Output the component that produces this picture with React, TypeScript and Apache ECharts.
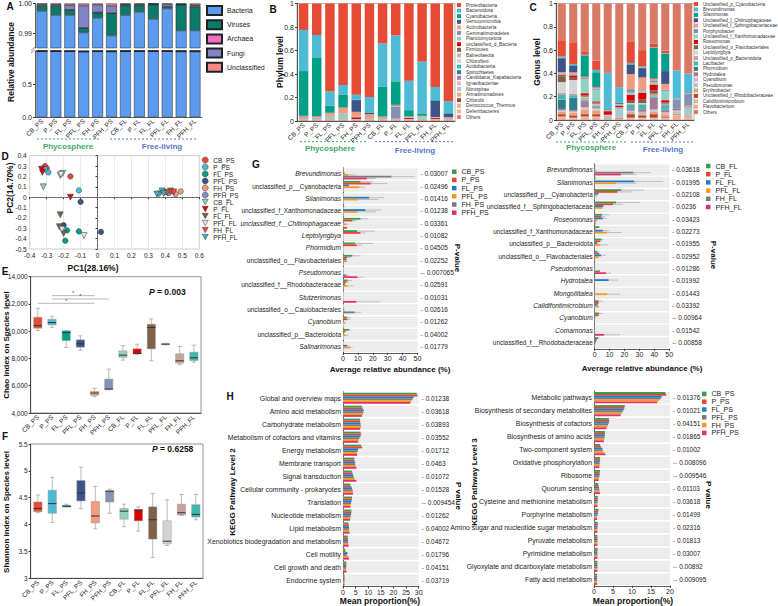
import React, { useEffect, useRef } from 'react';
import * as echarts from 'echarts';

const FONT = '"Liberation Sans", Arial, Helvetica, sans-serif';

const samples = ['CB_PS', 'P_PS', 'FL_PS', 'PFL_PS', 'FH_PS', 'PFH_PS', 'CB_FL', 'P_FL', 'FL_FL', 'PFL_FL', 'FH_FL', 'PFH_FL'];

// ---------- Panel A ----------
const kingdomNames = ['Bacteria', 'Viruses', 'Archaea', 'Fungi', 'Unclassified'];
const kingdomColors = ['#5b9bf0', '#0b7a6b', '#f06ec0', '#8282c6', '#f48a84'];
const aBacteria = [0.9975, 0.9961, 0.9961, 0.9902, 0.9952, 0.9892, 0.9961, 0.9972, 0.9948, 0.9983, 0.9909, 0.9909];
const aViruses = [0.0016, 0.003, 0.0017, 0.0015, 0.0017, 0.0075, 0.0032, 0.0021, 0.0048, 0.0005, 0.0087, 0.008];
const aArchaea = [0.0002, 0.0002, 0.0001, 0.0001, 0.0001, 0.0001, 0.0002, 0.0002, 0.0002, 0.0002, 0.0001, 0.0004];
const aFungi = [0.0005, 0.0004, 0.0015, 0.0075, 0.0026, 0.0024, 0.0003, 0.0003, 0.0001, 0.0008, 0.0001, 0.0002];
const aUnclassified = [0.0002, 0.0003, 0.0006, 0.0007, 0.0004, 0.0008, 0.0002, 0.0002, 0.0001, 0.0002, 0.0002, 0.0005];
const kingdomValues = [aBacteria, aViruses, aArchaea, aFungi, aUnclassified];

// ---------- Panel B ----------
const phylumNames = ['Proteobacteria', 'Bacteroidota', 'Cyanobacteria', 'Verrucomicrobia', 'Actinobacteria', 'Gemmatimonadetes', 'Planctomycetota', 'unclassified_d_Bacteria', 'Firmicutes', 'Balneolaeota', 'Chloroflexi', 'Acidobacteria', 'Spirochaetes', 'Candidatus_Kapabacteria', 'Ignavibacteriae', 'Nitrospirae', 'Armatimonadetes', 'Chlorobi', 'Deinococcus_Thermus', 'Deferribacteres', 'Others'];
const phylumColors = ['#e64b35', '#4dbbd5', '#00a087', '#3c5488', '#f39b7f', '#8491b4', '#91d1c2', '#dc0000', '#7e6148', '#c8b4a8', '#d5d5d5', '#3fb8b8', '#2c7f8c', '#b07aa1', '#e8b8c0', '#a8c8d8', '#f0a878', '#b4452e', '#d8b8a0', '#f4b49c', '#e8806a'];
const phylumValues = [
  [0.225, 0.268, 0.749, 0.694, 0.777, 0.796, 0.34, 0.272, 0.658, 0.495, 0.711, 0.832],
  [0.35, 0.19, 0.12, 0.08, 0.04, 0.13, 0.37, 0.39, 0.25, 0.44, 0.11, 0.1],
  [0.38, 0.5, 0.06, 0.11, 0.005, 0.005, 0.25, 0.2, 0.05, 0.02, 0.005, 0.005],
  [0.005, 0.003, 0.003, 0.003, 0.1, 0.01, 0.003, 0.005, 0.003, 0.003, 0.14, 0.03],
  [0.015, 0.012, 0.025, 0.05, 0.04, 0.035, 0.012, 0.01, 0.008, 0.006, 0.005, 0.008],
  [0.003, 0.005, 0.003, 0.003, 0.003, 0.002, 0.003, 0.1, 0.003, 0.002, 0.002, 0.003],
  [0.003, 0.003, 0.02, 0.04, 0.003, 0.003, 0.003, 0.003, 0.003, 0.015, 0.002, 0.003],
  [0.002, 0.002, 0.003, 0.003, 0.015, 0.002, 0.002, 0.003, 0.008, 0.002, 0.008, 0.002],
  [0.001, 0.001, 0.001, 0.001, 0.001, 0.001, 0.001, 0.001, 0.001, 0.001, 0.001, 0.001],
  [0.001, 0.001, 0.001, 0.001, 0.001, 0.001, 0.001, 0.001, 0.001, 0.001, 0.001, 0.001],
  [0.001, 0.001, 0.001, 0.001, 0.001, 0.001, 0.001, 0.001, 0.001, 0.001, 0.001, 0.001],
  [0.001, 0.001, 0.001, 0.001, 0.001, 0.001, 0.001, 0.001, 0.001, 0.001, 0.001, 0.001],
  [0.001, 0.001, 0.001, 0.001, 0.001, 0.001, 0.001, 0.001, 0.001, 0.001, 0.001, 0.001],
  [0.001, 0.001, 0.001, 0.001, 0.001, 0.001, 0.001, 0.001, 0.001, 0.001, 0.001, 0.001],
  [0.001, 0.001, 0.001, 0.001, 0.001, 0.001, 0.001, 0.001, 0.001, 0.001, 0.001, 0.001],
  [0.001, 0.001, 0.001, 0.001, 0.001, 0.001, 0.001, 0.001, 0.001, 0.001, 0.001, 0.001],
  [0.001, 0.001, 0.001, 0.001, 0.001, 0.001, 0.001, 0.001, 0.001, 0.001, 0.001, 0.001],
  [0.001, 0.001, 0.001, 0.001, 0.001, 0.001, 0.001, 0.001, 0.001, 0.001, 0.001, 0.001],
  [0.001, 0.001, 0.001, 0.001, 0.001, 0.001, 0.001, 0.001, 0.001, 0.001, 0.001, 0.001],
  [0.001, 0.001, 0.001, 0.001, 0.001, 0.001, 0.001, 0.001, 0.001, 0.001, 0.001, 0.001],
  [0.005, 0.005, 0.005, 0.005, 0.005, 0.005, 0.005, 0.005, 0.005, 0.005, 0.005, 0.005],
];

// ---------- Panel C ----------
const genusNames = ['Unclassified_p_Cyanobacteria', 'Brevundimonas', 'Silanimonas', 'Unclassified_f_Chitinophagaceae', 'Unclassified_f_Sphingobacteriaceae', 'Porphyrobacter', 'Unclassified_f_Xanthomonadaceae', 'Roseomonas', 'Unclassified_o_Flavobacteriales', 'Leptolyngbya', 'Unclassified_p_Bacteroidota', 'Lacibacter', 'Phormidium', 'Hydrotalea', 'Cyanobium', 'Pseudomonas', 'Erythrobacter', 'Unclassified_f_Rhodobacteraceae', 'Calidifontimicrobium', 'Flavobacterium', 'Others'];
const genusColors = ['#e64b35', '#4dbbd5', '#00a087', '#3c5488', '#f39b7f', '#8491b4', '#91d1c2', '#dc0000', '#7e6148', '#d5d5d5', '#c8a098', '#3fb8b0', '#2c7f8c', '#a87a9a', '#e0b0bc', '#a8c8d0', '#f0a070', '#b4452e', '#d8b8a0', '#f4a890', '#d97a66'];
const genusValues = [
  [0.14, 0.18, 0.03, 0.08, 0.002, 0.002, 0.18, 0.14, 0.03, 0.02, 0.002, 0.002],
  [0.01, 0.01, 0.005, 0.02, 0.31, 0.13, 0.01, 0.01, 0.005, 0.005, 0.24, 0.16],
  [0.005, 0.003, 0.18, 0.12, 0.002, 0.002, 0.005, 0.005, 0.26, 0.15, 0.002, 0.002],
  [0.12, 0.06, 0.005, 0.01, 0.005, 0.01, 0.08, 0.08, 0.005, 0.11, 0.003, 0.005],
  [0.01, 0.01, 0.01, 0.01, 0.003, 0.005, 0.13, 0.11, 0.02, 0.05, 0.003, 0.005],
  [0.01, 0.01, 0.01, 0.01, 0.005, 0.01, 0.03, 0.01, 0.01, 0.01, 0.08, 0.1],
  [0.005, 0.005, 0.12, 0.1, 0.002, 0.003, 0.02, 0.01, 0.02, 0.08, 0.002, 0.002],
  [0.01, 0.02, 0.02, 0.01, 0.03, 0.01, 0.05, 0.06, 0.05, 0.02, 0.005, 0.005],
  [0.05, 0.02, 0.01, 0.01, 0.003, 0.003, 0.02, 0.03, 0.03, 0.01, 0.002, 0.002],
  [0.09, 0.12, 0.005, 0.005, 0.002, 0.002, 0.005, 0.005, 0.002, 0.002, 0.002, 0.002],
  [0.02, 0.01, 0.02, 0.01, 0.003, 0.003, 0.01, 0.01, 0.02, 0.01, 0.002, 0.002],
  [0.04, 0.02, 0.01, 0.01, 0.003, 0.003, 0.03, 0.03, 0.01, 0.04, 0.002, 0.002],
  [0.08, 0.11, 0.005, 0.005, 0.002, 0.002, 0.01, 0.01, 0.003, 0.003, 0.002, 0.002],
  [0.01, 0.01, 0.05, 0.01, 0.003, 0.003, 0.01, 0.02, 0.1, 0.02, 0.002, 0.002],
  [0.01, 0.01, 0.01, 0.01, 0.002, 0.002, 0.01, 0.01, 0.01, 0.01, 0.002, 0.002],
  [0.005, 0.003, 0.01, 0.01, 0.01, 0.07, 0.01, 0.01, 0.01, 0.005, 0.02, 0.07],
  [0.02, 0.02, 0.04, 0.03, 0.005, 0.005, 0.01, 0.01, 0.02, 0.02, 0.005, 0.005],
  [0.02, 0.02, 0.02, 0.02, 0.005, 0.005, 0.03, 0.02, 0.03, 0.01, 0.005, 0.005],
  [0.01, 0.01, 0.01, 0.01, 0.003, 0.003, 0.01, 0.01, 0.01, 0.01, 0.005, 0.005],
  [0.02, 0.01, 0.02, 0.02, 0.005, 0.01, 0.01, 0.01, 0.01, 0.01, 0.04, 0.02],
  [0.315, 0.339, 0.41, 0.49, 0.595, 0.717, 0.33, 0.4, 0.345, 0.405, 0.574, 0.6],
];

// ---------- Panel D ----------
const pcoaColors = ['#e64b35', '#4dbbd5', '#00a087', '#3c5488', '#f39b7f', '#8491b4', '#91d1c2', '#dc0000', '#7e6148', '#e6e6e6', '#e8503a', '#3fb5c5'];
const pcoaTriangle = [false, false, false, false, false, false, true, true, true, true, true, true];
const pcoaPoints = [
  [[-0.31, 0.3], [-0.3, 0.28], [-0.16, 0.2]],
  [[-0.29, 0.24], [-0.31, 0.27], [-0.11, 0.065]],
  [[-0.18, -0.32], [-0.19, -0.42], [-0.11, -0.33]],
  [[-0.2, -0.27], [-0.1, -0.045], [0.02, -0.335]],
  [[0.44, 0.06], [0.46, 0.03], [0.49, 0.055]],
  [[0.36, 0.035], [0.4, 0.05], [0.42, 0.04]],
  [[-0.32, 0.1], [-0.22, 0.21], [-0.205, 0.23]],
  [[-0.33, 0.27], [-0.325, 0.24], [-0.16, 0.0]],
  [[-0.22, -0.17], [-0.225, -0.285], [-0.2, -0.35]],
  [[-0.21, -0.31], [-0.08, -0.37], [-0.215, 0.22]],
  [[0.43, 0.06], [0.45, 0.05], [0.41, 0.045]],
  [[0.38, 0.06], [0.39, 0.035], [0.35, 0.03]],
];

// ---------- Panels E / F ----------
const boxColors = ['#e64b35', '#4dbbd5', '#00a087', '#3c5488', '#f39b7f', '#8491b4', '#91d1c2', '#dc0000', '#7e6148', '#d4d4d4', '#c9a39a', '#3fb8b0'];
const chaoStats = [
  [10049, 10220, 10415, 11024, 11683],
  [10268, 10463, 10634, 10878, 11098],
  [8805, 9317, 9902, 10024, 10049],
  [8610, 8830, 9073, 9366, 9658],
  [5195, 5293, 5463, 5585, 5829],
  [5707, 5730, 5760, 6488, 7220],
  [7878, 8073, 8244, 8561, 8951],
  [8317, 8340, 8366, 8707, 9049],
  [7829, 8707, 10268, 10512, 10902],
  [9000, 9030, 9049, 9098, 9110],
  [7537, 7659, 7829, 8342, 8878],
  [7732, 7854, 8049, 8463, 8976],
];
const chaoSignif = [[1, 4, 12610], [1, 5, 12366], [0, 4, 12049]];
const shannonStats = [
  [4.22, 4.24, 4.3, 4.42, 4.55],
  [4.04, 4.21, 4.39, 4.64, 4.88],
  [4.33, 4.33, 4.34, 4.36, 4.38],
  [4.3, 4.44, 4.59, 4.82, 5.07],
  [3.92, 4.03, 4.16, 4.43, 4.71],
  [4.21, 4.42, 4.62, 4.63, 4.66],
  [3.96, 4.1, 4.25, 4.3, 4.38],
  [3.88, 4.07, 4.27, 4.28, 4.33],
  [3.39, 3.73, 4.09, 4.33, 4.58],
  [3.61, 3.64, 3.69, 4.07, 4.46],
  [4.17, 4.18, 4.22, 4.38, 4.56],
  [4.09, 4.14, 4.19, 4.37, 4.56],
];

// ---------- Panel G ----------
const gPSNames = ['CB_PS', 'P_PS', 'FL_PS', 'PFL_PS', 'FH_PS', 'PFH_PS'];
const gFLNames = ['CB_FL', 'P_FL', 'FL_FL', 'PFL_FL', 'FH_FL', 'PFH_FL'];
const gColors = ['#3a9c48', '#ea4335', '#1f7ac8', '#f7981d', '#7a7a7a', '#e4306e'];
const gLeftTaxa = ['Brevundimonas', 'unclassified_p__Cyanobacteria', 'Silanimonas', 'unclassified_f_Xanthomonadaceae', 'unclassified_f__Chitinophagaceae', 'Leptolyngbya', 'Phormidium', 'unclassified_o__Flavobacteriales', 'Pseudomonas', 'unclassified_f__Rhodobacteraceae', 'Stutzerimonas', 'unclassified_o__Caulobacterales', 'Cyanobium', 'unclassified_p__Bacteroidota', 'Salinarimonas'];
const gLeftP = ['0.03007', '0.02496', '0.01416', '0.01238', '0.03361', '0.01082', '0.04505', '0.02252', '0.007065', '0.02591', '0.01031', '0.02616', '0.01262', '0.04002', '0.01779'];
const gLeftVals = [
  [0.5, 0.5, 1.0, 3.4, 32.5, 16],
  [11.7, 18.6, 4, 11, 0.5, 0.3],
  [0.3, 0.3, 17.5, 10.5, 0.3, 0.3],
  [0.8, 0.3, 15, 9.6, 0.3, 0.3],
  [11.7, 6.3, 0.5, 2.2, 0.3, 2.7],
  [9.4, 11.7, 0.2, 0.2, 0.1, 0.1],
  [8, 9.2, 0.2, 0.2, 0.1, 0.1],
  [6.3, 2.7, 2.2, 2.7, 0.5, 0.3],
  [0.2, 0.2, 0.3, 0.3, 2.2, 9.6],
  [3.1, 2.2, 1.3, 3.1, 0.5, 0.5],
  [0.1, 0.1, 0.1, 0.1, 0.2, 9],
  [0.2, 0.2, 0.3, 1.0, 7.8, 0.3],
  [2.5, 2.9, 0.5, 1.5, 0.1, 0.1],
  [4, 1.6, 0.5, 1.8, 0.2, 0.2],
  [0.2, 0.2, 2.7, 4.7, 0.2, 0.2],
];
const gLeftErr = [
  [0, 0, 0, 8.5, 48, 22],
  [20, 30, 0, 15, 0, 0],
  [0, 0, 27.6, 23.5, 0, 0],
  [0, 0, 25.8, 22.4, 0, 0],
  [17, 9, 0, 4, 0, 0],
  [21.5, 15, 0, 0, 0, 0],
  [20, 13, 0, 0, 0, 0],
  [11.9, 5, 0, 0, 0, 0],
  [0, 0, 0, 0, 4, 14],
  [6, 4, 0, 7, 0, 0],
  [0, 0, 0, 0, 0, 25],
  [0, 0, 0, 0, 12, 0],
  [5, 4.8, 0, 0, 0, 0],
  [5.5, 0, 0, 3.5, 0, 0],
  [0, 0, 4.5, 6.5, 0, 0],
];
const gRightTaxa = ['Brevundimonas', 'Silanimonas', 'unclassified_p__Cyanobacteria', 'unclassified_f__Sphingobacteriaceae', 'Roseomonas', 'unclassified_f_Xanthomonadaceae', 'unclassified_p__Bacteroidota', 'unclassified_o__Flavobacteriales', 'Pseudomonas', 'Hydrotalea', 'Mongoliitalea', 'Calidifontimicrobium', 'Cyanobium', 'Comamonas', 'unclassified_f__Rhodobacteraceae'];
const gRightP = ['0.03618', '0.01995', '0.02108', '0.0236', '0.03423', '0.02273', '0.01955', '0.02952', '0.01286', '0.01992', '0.01443', '0.03392', '0.00964', '0.01542', '0.00858'];
const gRightVals = [
  [0.3, 0.3, 0.3, 0.9, 26, 17.5],
  [0.5, 0.3, 26.5, 14.3, 0.2, 0.2],
  [17.7, 15.2, 2.5, 1.3, 0.2, 0.2],
  [14.3, 12.3, 5.8, 5.2, 0.2, 0.2],
  [4.9, 4.3, 5.4, 1.8, 0.5, 0.5],
  [3.1, 0.5, 5.4, 8.1, 0.2, 0.2],
  [4.3, 3.6, 1.6, 3.8, 0.2, 0.2],
  [1.8, 3.1, 4.3, 2.7, 0.2, 0.2],
  [0.2, 0.2, 0.2, 0.2, 3.6, 7.6],
  [0.3, 0.2, 9.4, 0.3, 0.1, 0.1],
  [0.2, 0.2, 0.2, 8.5, 0.1, 0.1],
  [2.5, 2.5, 2, 2.7, 0.1, 0.1],
  [2.9, 2.7, 0.4, 0.3, 0.1, 0.1],
  [0.2, 0.2, 0.2, 0.2, 0.3, 6.3],
  [2.2, 1.3, 0.9, 0.5, 0.1, 0.1],
];
const gRightErr = [
  [0, 0, 0, 0, 37.7, 28],
  [0, 0, 46, 28, 0, 0],
  [33, 25, 0, 0, 0, 0],
  [30.5, 19, 0, 0, 0, 0],
  [10, 7, 8, 0, 0, 0],
  [0, 0, 10, 18, 0, 0],
  [6, 5, 0, 9, 0, 0],
  [0, 0, 7.5, 0, 0, 0],
  [0, 0, 0, 0, 0, 11],
  [0, 0, 15.5, 0, 0, 0],
  [0, 0, 0, 17, 0, 0],
  [5.5, 0, 0, 0, 0, 0],
  [5.5, 0, 0, 0, 0, 0],
  [0, 0, 0, 0, 0, 17],
  [3.2, 0, 0, 0, 0, 0],
];
const italicTaxa = ['Brevundimonas', 'Silanimonas', 'unclassified_f__Chitinophagaceae', 'Leptolyngbya', 'Phormidium', 'Pseudomonas', 'Stutzerimonas', 'Cyanobium', 'Salinarimonas', 'Roseomonas', 'Hydrotalea', 'Mongoliitalea', 'Calidifontimicrobium', 'Comamonas'];

// ---------- Panel H ----------
const hColors = ['#3a9c48', '#ea4335', '#1f7ac8', '#7a7a7a', '#f7981d', '#e4306e'];
const hLevel2 = ['Global and overview maps', 'Amino acid metabolism', 'Carbohydrate metabolism', 'Metabolism of cofactors and vitamins', 'Energy metabolism', 'Membrane transport', 'Signal transduction', 'Cellular community - prokaryotes', 'Translation', 'Nucleotide metabolism', 'Lipid metabolism', 'Xenobiotics biodegradation and metabolism', 'Cell motility', 'Cell growth and death', 'Endocrine system'];
const hLevel2P = ['0.01238', '0.03618', '0.03893', '0.03552', '0.01712', '0.0463', '0.01072', '0.01528', '0.009454', '0.01262', '0.04002', '0.04672', '0.01796', '0.04151', '0.03719'];
const hLevel2Vals = [
  [29.2, 29.5, 28, 27.5, 27, 26.7],
  [7.5, 7.8, 8.2, 8.0, 7.9, 7.5],
  [6.7, 6.8, 6.9, 7.0, 7.1, 6.8],
  [7.0, 7.2, 6.9, 6.5, 6.2, 6.0],
  [7.2, 7.6, 6.0, 5.8, 5.5, 5.6],
  [4.5, 4.5, 4.8, 4.8, 5.0, 5.3],
  [3.5, 3.8, 4.0, 4.3, 4.6, 5.3],
  [2.8, 3.2, 3.5, 3.8, 4.0, 3.9],
  [3.6, 3.5, 3.4, 3.2, 3.0, 2.9],
  [3.3, 3.3, 3.2, 3.0, 2.9, 2.8],
  [2.2, 2.3, 2.4, 2.4, 2.5, 2.6],
  [1.9, 1.9, 2.0, 2.0, 2.1, 2.2],
  [0.8, 1.0, 1.8, 1.5, 2.2, 2.4],
  [1.3, 1.3, 1.3, 1.2, 1.3, 1.4],
  [0.6, 0.6, 0.6, 0.6, 0.6, 0.6],
];
const hLevel3 = ['Metabolic pathways', 'Biosynthesis of secondary metabolites', 'Biosynthesis of cofactors', 'Biosynthesis of amino acids', 'Two-component system', 'Oxidative phosphorylation', 'Ribosome', 'Quorum sensing', 'Cysteine and methionine metabolism', 'Porphyrine metabolism', 'Amino sugar and nucleotide sugar metabolism', 'Pyruvate metabolism', 'Pyrimidine metabolism', 'Glyoxylate and dicarboxylate metabolism', 'Fatty acid metabolism'];
const hLevel3P = ['0.01376', '0.01021', '0.04151', '0.01865', '0.01002', '0.008096', '0.009546', '0.01103', '0.03618', '0.01499', '0.02316', '0.01813', '0.03007', '0.00892', '0.009095'];
const hLevel3Vals = [
  [18.8, 19.0, 17.8, 17.5, 17.0, 16.6],
  [8.1, 8.0, 7.8, 7.5, 7.2, 7.0],
  [3.9, 4.0, 3.9, 3.7, 3.5, 3.3],
  [2.9, 2.9, 2.8, 2.8, 2.7, 2.6],
  [1.6, 1.8, 2.2, 2.3, 2.6, 3.0],
  [1.6, 1.6, 1.5, 1.5, 1.5, 1.4],
  [1.6, 1.5, 1.5, 1.4, 1.3, 1.2],
  [1.1, 1.2, 1.3, 1.4, 1.5, 1.6],
  [1.0, 1.0, 1.0, 0.9, 0.9, 0.9],
  [1.2, 1.1, 1.0, 0.9, 0.8, 0.8],
  [1.0, 1.0, 0.9, 0.9, 0.9, 0.9],
  [0.9, 0.9, 0.9, 0.9, 0.9, 0.9],
  [1.0, 0.9, 0.9, 0.9, 0.9, 0.9],
  [0.9, 0.9, 0.9, 0.9, 0.9, 0.9],
  [0.8, 0.8, 0.8, 0.8, 0.8, 0.8],
];

const TRI = 'path://M0,0L10,0L5,9Z';

function lbl(size: number, extra: any = {}) {
  return { fontSize: size, color: '#222', fontFamily: FONT, ...extra };
}
const axLine = { show: true, lineStyle: { color: '#333', width: 0.8 } };

function txt(text: string, x: number, y: number, o: any = {}) {
  const align = o.align || 'center';
  return {
    type: 'text', x, y, rotation: o.rot || 0, silent: true, z: 100,
    style: {
      text, fontSize: o.size || 8, fontWeight: o.bold ? 'bold' : 'normal', fill: o.color || '#111',
      fontFamily: FONT, align, textAlign: align, verticalAlign: 'middle', textVerticalAlign: 'middle', rich: o.rich,
    },
  };
}
function dashLine(x1: number, x2: number, y: number, color: string) {
  return { type: 'line', silent: true, shape: { x1, y1: y, x2, y2: y }, style: { stroke: color, lineWidth: 1, lineDash: [2, 2] } };
}

function buildOption() {
  const grid: any[] = [
    { left: 35, top: 3, width: 167, height: 45 },
    { left: 35, top: 51, width: 167, height: 66 },
    { left: 297, top: 3, width: 158, height: 118, show: true, borderColor: '#888', borderWidth: 0.6 },
    { left: 556, top: 3, width: 138, height: 117, show: true, borderColor: '#888', borderWidth: 0.6 },
    { left: 29.7, top: 155.7, width: 169.6, height: 93.3, show: true, borderColor: '#aaa', borderWidth: 0.6 },
    { left: 30.7, top: 276.7, width: 170.3, height: 136.3, show: true, borderColor: '#777', borderWidth: 0.8 },
    { left: 30.7, top: 444, width: 172.3, height: 134.3, show: true, borderColor: '#777', borderWidth: 0.8 },
    { left: 343, top: 167.8, width: 74.5, height: 185 },
    { left: 594.7, top: 163.8, width: 74.5, height: 185 },
    { left: 343, top: 391.8, width: 75.7, height: 194.7 },
    { left: 594, top: 391.2, width: 76, height: 194.6 },
  ];
  const rotLabels = { rotate: 45, interval: 0, margin: 3, ...lbl(6.5) };
  const xAxis: any[] = [
    { gridIndex: 0, type: 'category', data: samples, show: false },
    { gridIndex: 1, type: 'category', data: samples, axisLine: axLine, axisTick: { show: false }, axisLabel: rotLabels },
    { gridIndex: 2, type: 'category', data: samples, axisLine: axLine, axisTick: { show: false }, axisLabel: rotLabels },
    { gridIndex: 3, type: 'category', data: samples, axisLine: axLine, axisTick: { show: false }, axisLabel: rotLabels },
    { gridIndex: 4, type: 'value', min: -0.4, max: 0.6, interval: 0.1, axisLine: axLine, axisTick: { length: 2 }, axisLabel: { margin: 3, ...lbl(6.5) }, splitLine: { show: true, lineStyle: { color: '#dcdcdc', width: 0.6 } } },
    { gridIndex: 5, type: 'category', data: samples, axisLine: axLine, axisTick: { length: 2, alignWithLabel: true }, axisLabel: rotLabels },
    { gridIndex: 6, type: 'category', data: samples, axisLine: axLine, axisTick: { length: 2, alignWithLabel: true }, axisLabel: rotLabels },
    { gridIndex: 7, type: 'value', min: 0, max: 50, interval: 10, axisLine: axLine, axisTick: { show: true, length: 2 }, axisLabel: { margin: 2, ...lbl(7) }, splitLine: { show: false } },
    { gridIndex: 8, type: 'value', min: 0, max: 50, interval: 10, axisLine: axLine, axisTick: { show: true, length: 2 }, axisLabel: { margin: 2, ...lbl(7) }, splitLine: { show: false } },
    { gridIndex: 9, type: 'value', min: 0, max: 30, interval: 5, axisLine: axLine, axisTick: { show: true, length: 2 }, axisLabel: { margin: 2, ...lbl(7) }, splitLine: { show: false } },
    { gridIndex: 10, type: 'value', min: 0, max: 20, interval: 5, axisLine: axLine, axisTick: { show: true, length: 2 }, axisLabel: { margin: 2, ...lbl(7) }, splitLine: { show: false } },
  ];
  const italicSet = new Set(italicTaxa);
  const taxLabel = {
    margin: 2, ...lbl(6.4),
    formatter: (v: string) => (italicSet.has(v) ? `{i|${v}}` : v),
    rich: { i: { fontStyle: 'italic', fontSize: 6.6, color: '#222', fontFamily: FONT } },
  };
  const pLabel = {
    margin: 3, ...lbl(6.5),
    formatter: (v: string) => `{d|${Number(v) < 0.01 ? '--' : '-'}} ${v}`,
    rich: { d: { color: '#e03030', fontSize: 6.5, fontFamily: FONT } },
  };
  const catY = (gi: number, data: string[], labelCfg: any, right = false) => ({
    gridIndex: gi, type: 'category', data, inverse: true, position: right ? 'right' : 'left',
    axisLine: right ? { show: false } : axLine, axisTick: { show: false }, axisLabel: labelCfg,
  });
  const yAxis: any[] = [
    { gridIndex: 0, type: 'value', min: 0.985, max: 1, interval: 0.005, axisLine: axLine,
      axisTick: { show: true, length: 2, customValues: [0.99, 1] },
      axisLabel: { margin: 3, ...lbl(7), customValues: [0.99, 1], formatter: (v: number) => (Math.abs(v - 0.99) < 1e-6 || Math.abs(v - 1) < 1e-6 ? v.toFixed(2) : '') },
      splitLine: { show: false } },
    { gridIndex: 1, type: 'value', min: 0, max: 1, interval: 0.5, axisLine: axLine,
      axisTick: { show: true, length: 2, customValues: [0, 0.5] },
      axisLabel: { margin: 3, ...lbl(7), customValues: [0, 0.5], formatter: (v: number) => (v >= 0.99 ? '' : v.toFixed(1)) },
      splitLine: { show: false } },
    { gridIndex: 2, type: 'value', min: 0, max: 1, interval: 0.2, axisLine: axLine, axisTick: { show: true, length: 2 }, axisLabel: { margin: 3, ...lbl(7) }, splitLine: { show: false } },
    { gridIndex: 3, type: 'value', min: 0, max: 1, interval: 0.2, axisLine: axLine, axisTick: { show: true, length: 2 }, axisLabel: { margin: 3, ...lbl(7) }, splitLine: { show: false } },
    { gridIndex: 4, type: 'value', min: -0.5, max: 0.4, interval: 0.1, axisLine: axLine, axisTick: { show: true, length: 2 }, axisLabel: { margin: 3, ...lbl(6.5) }, splitLine: { show: false } },
    { gridIndex: 5, type: 'value', min: 4000, max: 14000, interval: 2000, axisLine: axLine, axisTick: { show: true, length: 2 }, axisLabel: { margin: 3, ...lbl(6.5) }, splitLine: { show: false } },
    { gridIndex: 6, type: 'value', min: 3, max: 5.5, interval: 0.5, axisLine: axLine, axisTick: { show: true, length: 2 }, axisLabel: { margin: 3, ...lbl(6.5) }, splitLine: { show: false } },
    catY(7, gLeftTaxa, taxLabel),
    catY(7, gLeftP, pLabel, true),
    catY(8, gRightTaxa, taxLabel),
    catY(8, gRightP, pLabel, true),
    catY(9, hLevel2, { margin: 2, ...lbl(6.9) }),
    catY(9, hLevel2P, pLabel, true),
    catY(10, hLevel3, { margin: 2, ...lbl(6.9) }),
    catY(10, hLevel3P, pLabel, true),
  ];

  const series: any[] = [];
  // Panel D scatter
  samples.forEach((name, i) => {
    series.push({
      type: 'scatter', name, xAxisIndex: 4, yAxisIndex: 4, data: pcoaPoints[i],
      symbol: pcoaTriangle[i] ? TRI : 'circle', symbolSize: pcoaTriangle[i] ? 6 : 5.5,
      itemStyle: { color: pcoaColors[i], borderColor: '#333', borderWidth: 0.5, opacity: 1 },
      markLine: i === 0 ? {
        silent: true, symbol: 'none', label: { show: false },
        lineStyle: { type: 'dashed', color: '#888', width: 0.7 },
        data: [{ xAxis: 0 }, { yAxis: 0 }],
      } : undefined,
    });
  });
  // Panel A
  [0, 1].forEach((gi) => {
    kingdomNames.forEach((name, k) => {
      series.push({
        type: 'bar', name, xAxisIndex: gi, yAxisIndex: gi, stack: 'a' + gi, data: kingdomValues[k],
        barCategoryGap: '22%', clip: true,
        itemStyle: { color: kingdomColors[k], borderColor: '#222', borderWidth: 0.5 },
      });
    });
  });
  // Panel B (Proteobacteria on top)
  for (let k = phylumNames.length - 1; k >= 0; k--) {
    series.push({
      type: 'bar', name: phylumNames[k], xAxisIndex: 2, yAxisIndex: 2, stack: 'b', data: phylumValues[k],
      barCategoryGap: '28%', clip: true, itemStyle: { color: phylumColors[k] },
    });
  }
  // Panel C (Others on top)
  const cOrder: number[] = [];
  for (let k = genusNames.length - 2; k >= 0; k--) cOrder.push(k);
  cOrder.push(genusNames.length - 1);
  cOrder.forEach((k) => {
    series.push({
      type: 'bar', name: genusNames[k], xAxisIndex: 3, yAxisIndex: 3, stack: 'c', data: genusValues[k],
      barCategoryGap: '30%', clip: true, itemStyle: { color: genusColors[k] },
    });
  });
  // Panels E / F boxplots
  const boxRender = (params: any, api: any) => {
    const i = api.value(0);
    const pMin = api.coord([i, api.value(1)]);
    const pQ1 = api.coord([i, api.value(2)]);
    const pMed = api.coord([i, api.value(3)]);
    const pQ3 = api.coord([i, api.value(4)]);
    const pMax = api.coord([i, api.value(5)]);
    const band = api.size([1, 0])[0];
    const bw = band * 0.58;
    const cw = band * 0.3;
    const cx = pMin[0];
    const wStyle = { stroke: '#a8a8a8', lineWidth: 0.8 };
    return {
      type: 'group',
      children: [
        { type: 'line', shape: { x1: cx, y1: pMax[1], x2: cx, y2: pMin[1] }, style: wStyle },
        { type: 'line', shape: { x1: cx - cw / 2, y1: pMax[1], x2: cx + cw / 2, y2: pMax[1] }, style: wStyle },
        { type: 'line', shape: { x1: cx - cw / 2, y1: pMin[1], x2: cx + cw / 2, y2: pMin[1] }, style: wStyle },
        { type: 'rect', shape: { x: cx - bw / 2, y: pQ3[1], width: bw, height: Math.max(pQ1[1] - pQ3[1], 0.8) }, style: { fill: boxColors[i], stroke: '#999', lineWidth: 0.5 } },
        { type: 'line', shape: { x1: cx - bw / 2, y1: pMed[1], x2: cx + bw / 2, y2: pMed[1] }, style: { stroke: '#333', lineWidth: 1 } },
      ],
    };
  };
  series.push({
    type: 'custom', xAxisIndex: 5, yAxisIndex: 5, renderItem: boxRender, encode: { x: 0, y: [1, 2, 3, 4, 5] },
    data: chaoStats.map((s, i) => [i, ...s]),
  });
  series.push({
    type: 'custom', xAxisIndex: 6, yAxisIndex: 6, renderItem: boxRender, encode: { x: 0, y: [1, 2, 3, 4, 5] },
    data: shannonStats.map((s, i) => [i, ...s]),
  });
  series.push({
    type: 'custom', xAxisIndex: 5, yAxisIndex: 5, encode: { x: [0, 1], y: 2 },
    data: chaoSignif,
    renderItem: (params: any, api: any) => {
      const p1 = api.coord([api.value(0), api.value(2)]);
      const p2 = api.coord([api.value(1), api.value(2)]);
      return {
        type: 'group',
        children: [
          { type: 'line', shape: { x1: p1[0], y1: p1[1], x2: p2[0], y2: p2[1] }, style: { stroke: '#999', lineWidth: 0.7 } },
          { type: 'text', x: (p1[0] + p2[0]) / 2, y: p1[1] + 0.5, style: { text: '*', fontSize: 6, fill: '#555', align: 'center', verticalAlign: 'bottom', fontFamily: FONT } },
        ],
      };
    },
  });
  // Panels G / H bars
  const addBars = (gi: number, yi: number, names: string[], colors: string[], rows: number[][], gap: string) => {
    names.forEach((name, k) => {
      series.push({
        type: 'bar', name, xAxisIndex: gi, yAxisIndex: yi, data: rows.map((r) => r[k]),
        barGap: '0%', barCategoryGap: gap, showBackground: true,
        backgroundStyle: { color: '#ebebeb' }, itemStyle: { color: colors[k] },
      });
    });
  };
  addBars(7, 7, gPSNames, gColors, gLeftVals, '12%');
  addBars(8, 9, gFLNames, gColors, gRightVals, '12%');
  addBars(9, 11, gPSNames, hColors, hLevel2Vals, '14%');
  addBars(10, 13, gPSNames, hColors, hLevel3Vals, '14%');
  const errItems = (vals: number[][], errs: number[][]) => {
    const out: number[][] = [];
    vals.forEach((row, r) => row.forEach((v, k) => { if (errs[r][k] > 0) out.push([errs[r][k], r, v, k]); }));
    return out;
  };
  const errRender = (params: any, api: any) => {
    const row = api.value(1);
    const k = api.value(3);
    const p1 = api.coord([api.value(2), row]);
    const p2 = api.coord([api.value(0), row]);
    const band = api.size([0, 1])[1];
    const total = band * 0.88;
    const w = total / 6;
    const y = p1[1] - total / 2 + w * (k + 0.5);
    return { type: 'line', shape: { x1: p1[0], y1: y, x2: p2[0], y2: y }, style: { stroke: '#bdbdbd', lineWidth: 1 } };
  };
  series.push({ type: 'custom', xAxisIndex: 7, yAxisIndex: 7, encode: { x: 0, y: 1 }, renderItem: errRender, data: errItems(gLeftVals, gLeftErr) });
  series.push({ type: 'custom', xAxisIndex: 8, yAxisIndex: 9, encode: { x: 0, y: 1 }, renderItem: errRender, data: errItems(gRightVals, gRightErr) });

  const legendBase = { orient: 'vertical', padding: 0, selectedMode: false, itemGap: 0 };
  const legend: any[] = [
    { ...legendBase, left: 206, top: 5, itemWidth: 15, itemHeight: 9, itemGap: 3.2, icon: 'rect',
      textStyle: { ...lbl(7), lineHeight: 9 }, data: kingdomNames },
    { ...legendBase, left: 457, top: 2.2, itemWidth: 4, itemHeight: 4, icon: 'rect', itemGap: 0,
      textStyle: { ...lbl(4.8, { color: '#333' }), lineHeight: 5.6 },
      data: phylumNames.map((n, i) => ({ name: n, itemStyle: { color: phylumColors[i], borderWidth: 0 } })) },
    { ...legendBase, left: 694, top: 1.4, itemWidth: 4, itemHeight: 4, icon: 'rect', itemGap: 0,
      textStyle: { ...lbl(4.6, { color: '#333' }), lineHeight: 5.4 },
      data: genusNames.map((n, i) => ({ name: n, itemStyle: { color: genusColors[i], borderWidth: 0 } })) },
    { ...legendBase, left: 202, top: 156.5, itemWidth: 6, itemHeight: 6,
      textStyle: { ...lbl(6.5), lineHeight: 7 },
      data: samples.map((n, i) => ({ name: n, icon: pcoaTriangle[i] ? TRI : 'circle', itemStyle: { color: pcoaColors[i], borderColor: '#333', borderWidth: 0.5 } })) },
    { ...legendBase, left: 452, top: 167.6, itemWidth: 4.5, itemHeight: 4.5,
      textStyle: { ...lbl(7), lineHeight: 8.2 },
      data: gPSNames.map((n, i) => ({ name: n, icon: 'rect', itemStyle: { color: gColors[i], borderWidth: 0 } })) },
    { ...legendBase, left: 706, top: 161.9, itemWidth: 4.5, itemHeight: 4.5,
      textStyle: { ...lbl(7), lineHeight: 8.2 },
      data: gFLNames.map((n, i) => ({ name: n, icon: 'rect', itemStyle: { color: gColors[i], borderWidth: 0 } })) },
    { ...legendBase, left: 702, top: 390, itemWidth: 4.5, itemHeight: 4.5,
      textStyle: { ...lbl(7), lineHeight: 7.8 },
      data: gPSNames.map((n, i) => ({ name: n, icon: 'rect', itemStyle: { color: hColors[i], borderWidth: 0 } })) },
  ];

  const green = '#3fa868';
  const blue = '#5577c8';
  const pRich = { i: { fontStyle: 'italic', fontWeight: 'bold', fontSize: 8.5, fontFamily: FONT, fill: '#111' } };
  const graphic: any[] = [
    txt('A', 10, 6, { bold: true, size: 10 }),
    txt('B', 273, 9, { bold: true, size: 10 }),
    txt('C', 533, 7, { bold: true, size: 10 }),
    txt('D', 5, 156, { bold: true, size: 10 }),
    txt('E', 5, 271, { bold: true, size: 10 }),
    txt('F', 5, 436, { bold: true, size: 10 }),
    txt('G', 256, 164, { bold: true, size: 10 }),
    txt('H', 230, 396, { bold: true, size: 10 }),
    txt('Relative abundance', 11, 62, { bold: true, size: 8.5, rot: Math.PI / 2 }),
    txt('Phylum level', 280, 62, { bold: true, size: 8.5, rot: Math.PI / 2 }),
    txt('Genus level', 537, 62, { bold: true, size: 8.5, rot: Math.PI / 2 }),
    txt('PC1(28.16%)', 93, 268, { bold: true, size: 8.5 }),
    txt('PC2(14.70%)', 10, 188, { bold: true, size: 8.5, rot: Math.PI / 2 }),
    txt('Chao index on Species level', 6, 345, { bold: true, size: 8, rot: Math.PI / 2 }),
    txt('Shannon index on Species level', 6, 512, { bold: true, size: 8, rot: Math.PI / 2 }),
    txt('{i|P} = 0.003', 149, 292, { bold: true, size: 8.5, align: 'left', rich: pRich }),
    txt('{i|P} = 0.6258', 152, 449, { bold: true, size: 8.5, align: 'left', rich: pRich }),
    txt('Average relative abundance (%)', 390, 369, { bold: true, size: 8 }),
    txt('Average relative abundance (%)', 642, 368, { bold: true, size: 8 }),
    txt('P-value', 457, 258, { bold: true, size: 8, rot: -Math.PI / 2 }),
    txt('P-value', 713, 255, { bold: true, size: 8, rot: -Math.PI / 2 }),
    txt('KEGG Pathway Level 2', 232.5, 492, { bold: true, size: 8, rot: Math.PI / 2 }),
    txt('KEGG Pathway Level 3', 474, 482, { bold: true, size: 8, rot: Math.PI / 2 }),
    txt('P value', 458, 496, { bold: true, size: 8, rot: -Math.PI / 2 }),
    txt('P value', 708, 495, { bold: true, size: 8, rot: -Math.PI / 2 }),
    txt('Mean proportion(%)', 380, 601, { bold: true, size: 8.5 }),
    txt('Mean proportion(%)', 633, 601, { bold: true, size: 8.5 }),
    dashLine(37, 100, 139, green), dashLine(110, 198, 139, blue),
    txt('Phycosphere', 68, 146, { bold: true, size: 8, color: green }),
    txt('Free-living', 162, 146, { bold: true, size: 8, color: blue }),
    dashLine(300, 367, 141.7, green), dashLine(375, 453, 141.7, blue),
    txt('Phycosphere', 330, 148, { bold: true, size: 8, color: green }),
    txt('Free-living', 415, 150, { bold: true, size: 8, color: blue }),
    dashLine(556, 627, 142, green), dashLine(631, 695, 142, blue),
    txt('Phycosphere', 591, 147, { bold: true, size: 8, color: green }),
    txt('Free-living', 663, 149, { bold: true, size: 8, color: blue }),
    { type: 'line', silent: true, shape: { x1: 31, y1: 50.5, x2: 35, y2: 47 }, style: { stroke: '#777', lineWidth: 0.8 } },
    { type: 'line', silent: true, shape: { x1: 31, y1: 53, x2: 35, y2: 49.5 }, style: { stroke: '#777', lineWidth: 0.8 } },
  ];

  return {
    animation: false,
    backgroundColor: '#ffffff',
    textStyle: { fontFamily: FONT },
    grid, xAxis, yAxis, series, legend, graphic,
  };
}

export default function App() {
  const ref = useRef<HTMLDivElement>(null);
  useEffect(() => {
    const chart = echarts.init(ref.current as HTMLDivElement, null, { renderer: 'svg' });
    chart.setOption(buildOption() as any);
    return () => chart.dispose();
  }, []);
  return <div ref={ref} style={{ position: 'absolute', left: 0, top: 0, width: 778, height: 606, background: '#fff' }} />;
}
